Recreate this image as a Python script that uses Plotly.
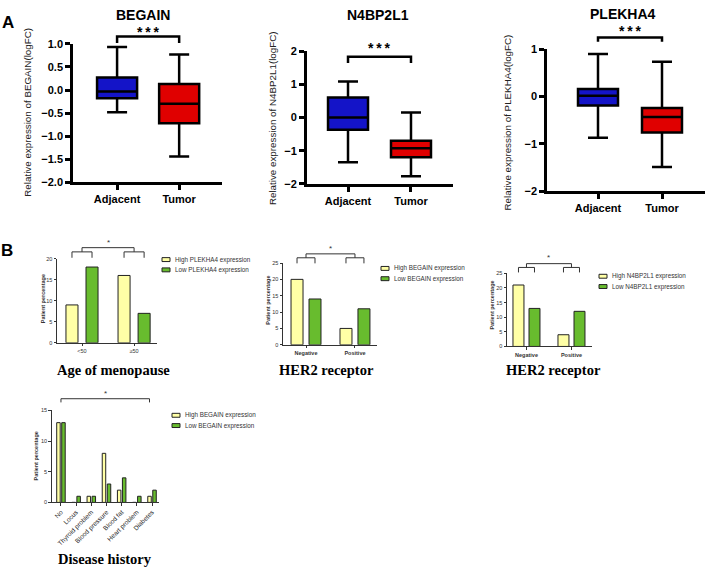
import plotly.graph_objects as go

W, H = 708, 575

# ---------------- Panel A data (box statistics, logFC) ----------------
box_groups = ["Adjacent", "Tumor"]

begain_upper = [0.93, 0.77]
begain_q3 = [0.27, 0.13]
begain_median = [-0.03, -0.30]
begain_q1 = [-0.18, -0.72]
begain_lower = [-0.48, -1.44]

n4bp2l1_upper = [1.08, 0.15]
n4bp2l1_q3 = [0.60, -0.70]
n4bp2l1_median = [0.00, -0.93]
n4bp2l1_q1 = [-0.37, -1.20]
n4bp2l1_lower = [-1.35, -1.77]

plekha4_upper = [0.90, 0.74]
plekha4_q3 = [0.16, -0.24]
plekha4_median = [0.02, -0.43]
plekha4_q1 = [-0.19, -0.76]
plekha4_lower = [-0.87, -1.49]

# ---------------- Panel B data (patient percentage) ----------------
menopause_cats = ["<50", "≥50"]
menopause_high = [9, 16]
menopause_low = [18, 7]

her2_cats = ["Negative", "Positive"]
her2_begain_high = [20, 5]
her2_begain_low = [14, 11]
her2_n4bp2l1_high = [21, 4]
her2_n4bp2l1_low = [13, 12]

disease_cats = ["No", "Locus", "Thyroid problem", "Blood pressure",
                "Blood fat", "Heart problem", "Diabetes"]
disease_high = [13, 0, 1, 8, 2, 0, 1]
disease_low = [13, 1, 1, 3, 4, 1, 2]

# ---------------- styles ----------------
BOX_COLORS = ["#1414C8", "#E00000"]
HIGH_COLOR = "#FFFFA6"
LOW_COLOR = "#68BC2E"
SANS = "Liberation Sans, Arial, sans-serif"
SERIF = "Liberation Serif, Times New Roman, serif"


def xdom(a, b):
    return [a / W, b / W]


def ydom(top, bot):
    return [1 - bot / H, 1 - top / H]


# panel geometry (pixel boxes of the plotting areas) and axis ranges
panels = [
    dict(xd=(73, 222), yd=(38.7, 180), xr=[-0.71, 1.69], yr=[-2, 1]),        # A1
    dict(xd=(306.7, 453), yd=(46, 181.7), xr=[-0.656, 1.667], yr=[-2, 2]),   # A2
    dict(xd=(547, 705), yd=(44.3, 189), xr=[-0.797, 1.672], yr=[-2, 1]),     # A3
    dict(xd=(57, 157), yd=(258, 344), xr=[-0.48, 1.44], yr=[0, 20]),         # B1
    dict(xd=(283, 377), yd=(262.5, 346), xr=[-0.47, 1.45], yr=[0, 25]),      # B2
    dict(xd=(507, 592), yd=(273, 347.7), xr=[-0.433, 1.456], yr=[0, 25]),    # B3
    dict(xd=(51.7, 159), yd=(413, 507), xr=[-0.61, 6.46], yr=[0, 15]),       # B4
]


def axn(i):
    return ("x" if i == 1 else f"x{i}"), ("y" if i == 1 else f"y{i}")


def yfrac(i, v):
    r = panels[i - 1]["yr"]
    return (v - r[0]) / (r[1] - r[0])


fig = go.Figure()
layout = dict(width=W, height=H, margin=dict(l=0, r=0, t=0, b=0),
              paper_bgcolor="white", plot_bgcolor="white", showlegend=False,
              barmode="overlay")

for i, p in enumerate(panels, start=1):
    xname, yname = axn(i)
    is_a = i <= 3
    lw = 2.5 if is_a else 1
    col = "black" if is_a else "#333"
    xa = dict(domain=xdom(*p["xd"]), range=p["xr"], anchor=yname,
              showline=True, linewidth=lw, linecolor=col, showgrid=False,
              zeroline=False, ticks="outside", ticklen=5 if is_a else 2.5,
              tickwidth=lw, tickcolor=col, fixedrange=True)
    ya = dict(domain=ydom(*p["yd"]), range=p["yr"], anchor=xname,
              showline=True, linewidth=lw, linecolor=col, showgrid=False,
              zeroline=False, ticks="outside", ticklen=5 if is_a else 2.5,
              tickwidth=lw, tickcolor=col, fixedrange=True)
    if is_a:
        xa.update(tickvals=[0, 1], ticktext=box_groups,
                  tickfont=dict(family=SANS, size=11, color="black", weight="bold"))
        ya.update(tickfont=dict(family=SANS, size=11, color="black", weight="bold"))
    layout["xaxis" if i == 1 else f"xaxis{i}"] = xa
    layout["yaxis" if i == 1 else f"yaxis{i}"] = ya

# A panels: y ticks
layout["yaxis"].update(dtick=0.5, tickformat=".1f")
layout["yaxis2"].update(dtick=1)
layout["yaxis3"].update(dtick=1)

# B panels ticks
small_font = dict(family=SANS, size=5.5, color="#333")
small_bold = dict(family=SANS, size=5.5, color="#333", weight="bold")
layout["xaxis4"].update(tickvals=list(range(len(menopause_cats))), ticktext=menopause_cats, tickfont=small_font)
layout["yaxis4"].update(dtick=5, tickfont=small_font)
layout["xaxis5"].update(tickvals=list(range(len(her2_cats))), ticktext=her2_cats, tickfont=small_bold)
layout["yaxis5"].update(dtick=5, tickfont=small_font)
layout["xaxis6"].update(tickvals=list(range(len(her2_cats))), ticktext=her2_cats, tickfont=small_bold)
layout["yaxis6"].update(dtick=5, tickfont=small_font)
layout["xaxis7"].update(tickvals=list(range(len(disease_cats))), ticktext=disease_cats,
                        tickangle=-45, tickfont=dict(family=SANS, size=6.5, color="#222"))
layout["yaxis7"].update(dtick=5, tickfont=small_font)

# ---------------- box plots ----------------
box_sets = [
    (begain_upper, begain_q3, begain_median, begain_q1, begain_lower, 0.645),
    (n4bp2l1_upper, n4bp2l1_q3, n4bp2l1_median, n4bp2l1_q1, n4bp2l1_lower, 0.635),
    (plekha4_upper, plekha4_q3, plekha4_median, plekha4_q1, plekha4_lower, 0.625),
]
for i, (up, q3, med, q1, lo, bw) in enumerate(box_sets, start=1):
    xname, yname = axn(i)
    for k in range(len(box_groups)):
        fig.add_trace(go.Box(
            x=[k], q1=[q1[k]], median=[med[k]], q3=[q3[k]],
            lowerfence=[lo[k]], upperfence=[up[k]],
            width=bw, whiskerwidth=0.5, fillcolor=BOX_COLORS[k],
            line=dict(color="black", width=2.5), boxpoints=False,
            xaxis=xname, yaxis=yname, hoverinfo="skip"))

# ---------------- bar charts ----------------
bar_sets = [
    (4, menopause_cats, menopause_high, menopause_low, 0.231, -0.308, 0.077),
    (5, her2_cats, her2_begain_high, her2_begain_low, 0.245, -0.306, 0.061),
    (6, her2_cats, her2_n4bp2l1_high, her2_n4bp2l1_low, 0.244, -0.30, 0.056),
    (7, disease_cats, disease_high, disease_low, 0.23, -0.28, 0.05),
]
bar_centers = {}
for (i, cats, hi, lo, bw, off_h, off_l) in bar_sets:
    xname, yname = axn(i)
    xs = list(range(len(cats)))
    fig.add_trace(go.Bar(x=xs, y=hi, width=bw, offset=off_h,
                         marker=dict(color=HIGH_COLOR, line=dict(color="#222", width=1)),
                         xaxis=xname, yaxis=yname, hoverinfo="skip"))
    fig.add_trace(go.Bar(x=xs, y=lo, width=bw, offset=off_l,
                         marker=dict(color=LOW_COLOR, line=dict(color="#222", width=1)),
                         xaxis=xname, yaxis=yname, hoverinfo="skip"))
    bar_centers[i] = (off_h + bw / 2, off_l + bw / 2)

shapes = []
annotations = []


def bracket(i, x0, x1, ytop, yleg, color, width):
    xname, yname = axn(i)
    a, b = yfrac(i, ytop), yfrac(i, yleg)
    shapes.append(dict(type="path", xref=xname, yref=f"{yname} domain",
                       path=f"M {x0},{b} L {x0},{a} L {x1},{a} L {x1},{b}",
                       line=dict(color=color, width=width)))


def star(i, x, y, text, size, color):
    xname, yname = axn(i)
    annotations.append(dict(xref=xname, yref=f"{yname} domain", x=x, y=yfrac(i, y),
                            text=text, showarrow=False, xanchor="center", yanchor="middle",
                            font=dict(family=SANS, size=size, color=color)))


STARS3 = "<b>*\u2009*\u2009*</b>"
# Panel A significance brackets
bracket(1, 0, 1, 1.16, 1.02, "black", 2.5)
star(1, 0.5, 1.26, STARS3, 14, "black")
bracket(2, 0, 1, 1.83, 1.64, "black", 2.5)
star(2, 0.5, 2.08, STARS3, 14, "black")
bracket(3, 0, 1, 1.25, 1.16, "black", 2.5)
star(3, 0.5, 1.38, STARS3, 14, "black")

# Panel B brackets (sub-brackets per group and a top bracket joining groups)
b_levels = {4: (22.6, 21.6, 20.2, 23.8), 5: (27.8, 26.6, 24.9, 29.4), 6: (28.3, 27.0, 25.3, 30.4)}
for i, (top, mid, leg, st) in b_levels.items():
    ch, cl = bar_centers[i]
    for g in range(2):
        bracket(i, g + ch, g + cl, mid, leg, "#333", 1)
    bracket(i, 0, 1, top, mid, "#333", 1)
    star(i, 0.5, st, "*", 8, "#333")
ch7, cl7 = bar_centers[7]
bracket(7, 0, len(disease_cats) - 1 + ch7, 16.9, 16.3, "#333", 1)
star(7, (len(disease_cats) - 1 + ch7) / 2, 17.8, "*", 8, "#333")


def paper_text(px, py, text, size, family=SANS, color="black", angle=0,
               xanchor="center", bold=False):
    annotations.append(dict(xref="paper", yref="paper", x=px / W, y=1 - py / H,
                            text=text, showarrow=False, xanchor=xanchor, yanchor="middle",
                            textangle=angle,
                            font=dict(family=family, size=size, color=color,
                                      weight="bold" if bold else "normal")))


# panel letters
paper_text(8, 17, "A", 17, bold=True)
paper_text(7, 250, "B", 17, bold=True)

# Panel A titles
paper_text(143, 9, "BEGAIN", 14, bold=True)
paper_text(378, 9, "N4BP2L1", 14, bold=True)
paper_text(623, 8, "PLEKHA4", 14, bold=True)

# Panel A y titles
paper_text(28, 109, "Relative expression of BEGAIN(logFC)", 9.8, color="#222", angle=-90)
paper_text(272, 114.5, "Relative expression of N4BP2L1(logFC)", 9.8, color="#222", angle=-90)
paper_text(508, 119, "Relative expression of PLEKHA4(logFC)", 9.8, color="#222", angle=-90)

# Panel B y titles
for (px, py) in [(42.5, 299), (268, 301), (492, 306), (36, 460)]:
    paper_text(px, py, "Patient percentage", 5.5, color="#333", angle=-90, bold=True)

# Panel B titles
paper_text(113, 372, "Age of menopause", 14.5, family=SERIF, bold=True)
paper_text(326, 372, "HER2 receptor", 14.5, family=SERIF, bold=True)
paper_text(553, 372, "HER2 receptor", 14.5, family=SERIF, bold=True)
paper_text(105, 565, "Disease history", 14.5, family=SERIF, bold=True)

# manual legends
legends = [
    (162, 259, ["High PLEKHA4 expression", "Low PLEKHA4 expression"]),
    (381, 268, ["High BEGAIN expression", "Low BEGAIN expression"]),
    (599, 276, ["High N4BP2L1 expression", "Low N4BP2L1 expression"]),
    (172, 418, ["High BEGAIN expression", "Low BEGAIN expression"]),
]
for (lx, ly, labels) in legends:
    for j, (lab, c) in enumerate(zip(labels, [HIGH_COLOR, LOW_COLOR])):
        yy = ly + j * 10.5
        shapes.append(dict(type="rect", xref="paper", yref="paper",
                           x0=lx / W, x1=(lx + 8) / W,
                           y0=1 - (yy + 2) / H, y1=1 - (yy - 2) / H,
                           fillcolor=c, line=dict(color="#222", width=1)))
        paper_text(lx + 11, yy, lab, 6.3, color="#333", xanchor="left")

layout["shapes"] = shapes
layout["annotations"] = annotations
fig.update_layout(**layout)
fig.write_html("out.html")
